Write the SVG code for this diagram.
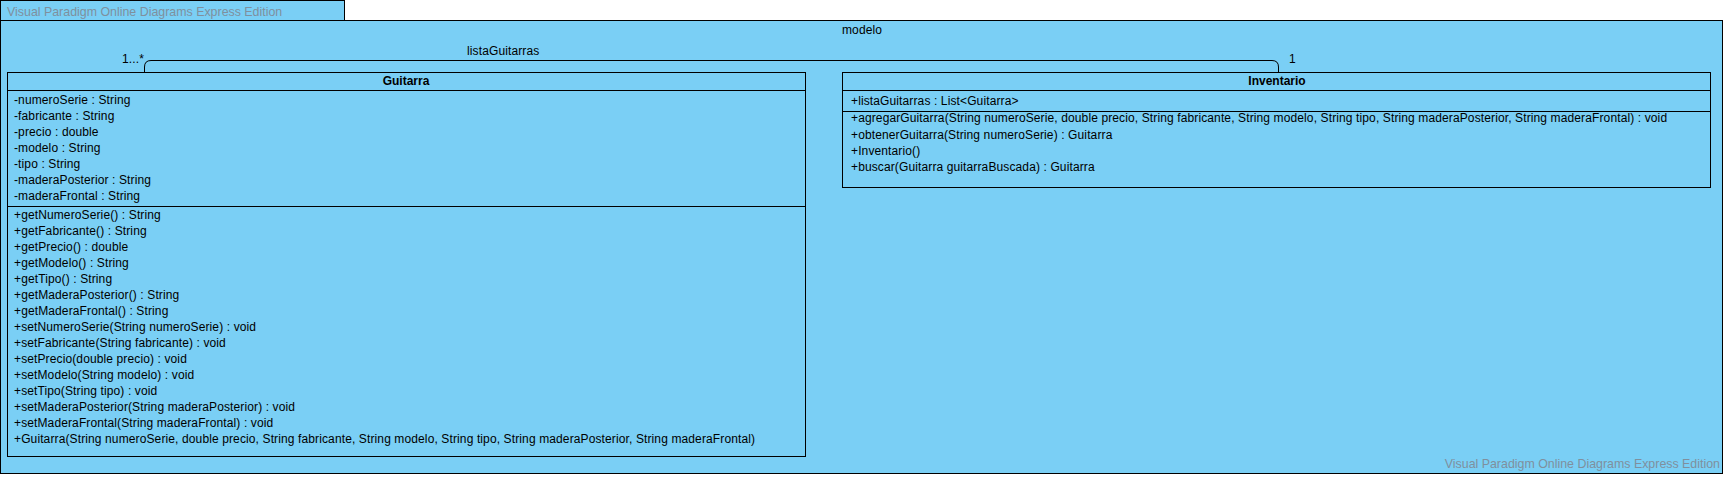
<svg xmlns="http://www.w3.org/2000/svg" width="1726" height="477" viewBox="0 0 1726 477">
<style>
.pkg{fill:#7acff5;stroke:#000;stroke-width:1}
.cls{fill:#7acff5;stroke:#000;stroke-width:1}
.div{stroke:#000;stroke-width:1}
text{font-family:"Liberation Sans",Arial,sans-serif;font-size:12px;letter-spacing:0.12px;fill:#000}
.t{font-weight:bold;text-anchor:middle;letter-spacing:0}
.wm{font-size:12.4px;letter-spacing:0;fill:#7f909e}
.conn{fill:none;stroke:#000;stroke-width:1}
</style>
<rect width="1726" height="477" fill="#fff"/>
<g id="package-modelo">
<rect class="pkg" x="0.5" y="0.5" width="344" height="20"/>
<rect class="pkg" x="0.5" y="20.5" width="1722" height="453"/>
<text class="wm" x="7" y="16">Visual Paradigm Online Diagrams Express Edition</text>
<text x="842" y="34">modelo</text>
<text class="wm" x="1720" y="468" text-anchor="end">Visual Paradigm Online Diagrams Express Edition</text>
</g>
<g id="connectors">
<path class="conn" d="M144.5,72 V67 Q144.5,60.5 151,60.5 H1272 Q1278.5,60.5 1278.5,67 V72"/>
<text x="122" y="63">1...*</text>
<text x="1289" y="63">1</text>
<text x="467" y="55">listaGuitarras</text>
</g>
<g id="class-Guitarra">
<rect class="cls" x="7.5" y="72.5" width="798" height="384"/>
<line class="div" x1="7.5" y1="90.5" x2="805.5" y2="90.5"/>
<line class="div" x1="7.5" y1="206.5" x2="805.5" y2="206.5"/>
<text class="t" x="406" y="85">Guitarra</text>
<text x="14" y="104">-numeroSerie : String</text>
<text x="14" y="120">-fabricante : String</text>
<text x="14" y="136">-precio : double</text>
<text x="14" y="152">-modelo : String</text>
<text x="14" y="168">-tipo : String</text>
<text x="14" y="184">-maderaPosterior : String</text>
<text x="14" y="200">-maderaFrontal : String</text>
<text x="14" y="219">+getNumeroSerie() : String</text>
<text x="14" y="235">+getFabricante() : String</text>
<text x="14" y="251">+getPrecio() : double</text>
<text x="14" y="267">+getModelo() : String</text>
<text x="14" y="283">+getTipo() : String</text>
<text x="14" y="299">+getMaderaPosterior() : String</text>
<text x="14" y="315">+getMaderaFrontal() : String</text>
<text x="14" y="331">+setNumeroSerie(String numeroSerie) : void</text>
<text x="14" y="347">+setFabricante(String fabricante) : void</text>
<text x="14" y="363">+setPrecio(double precio) : void</text>
<text x="14" y="379">+setModelo(String modelo) : void</text>
<text x="14" y="395">+setTipo(String tipo) : void</text>
<text x="14" y="411">+setMaderaPosterior(String maderaPosterior) : void</text>
<text x="14" y="427">+setMaderaFrontal(String maderaFrontal) : void</text>
<text x="14" y="443">+Guitarra(String numeroSerie, double precio, String fabricante, String modelo, String tipo, String maderaPosterior, String maderaFrontal)</text>
</g>
<g id="class-Inventario">
<rect class="cls" x="842.5" y="72.5" width="868" height="115"/>
<line class="div" x1="842.5" y1="90.5" x2="1710.5" y2="90.5"/>
<line class="div" x1="842.5" y1="111.5" x2="1710.5" y2="111.5"/>
<text class="t" x="1277" y="85">Inventario</text>
<text x="851" y="105">+listaGuitarras : List&lt;Guitarra&gt;</text>
<text x="851" y="122">+agregarGuitarra(String numeroSerie, double precio, String fabricante, String modelo, String tipo, String maderaPosterior, String maderaFrontal) : void</text>
<text x="851" y="139">+obtenerGuitarra(String numeroSerie) : Guitarra</text>
<text x="851" y="155">+Inventario()</text>
<text x="851" y="171">+buscar(Guitarra guitarraBuscada) : Guitarra</text>
</g>
</svg>
